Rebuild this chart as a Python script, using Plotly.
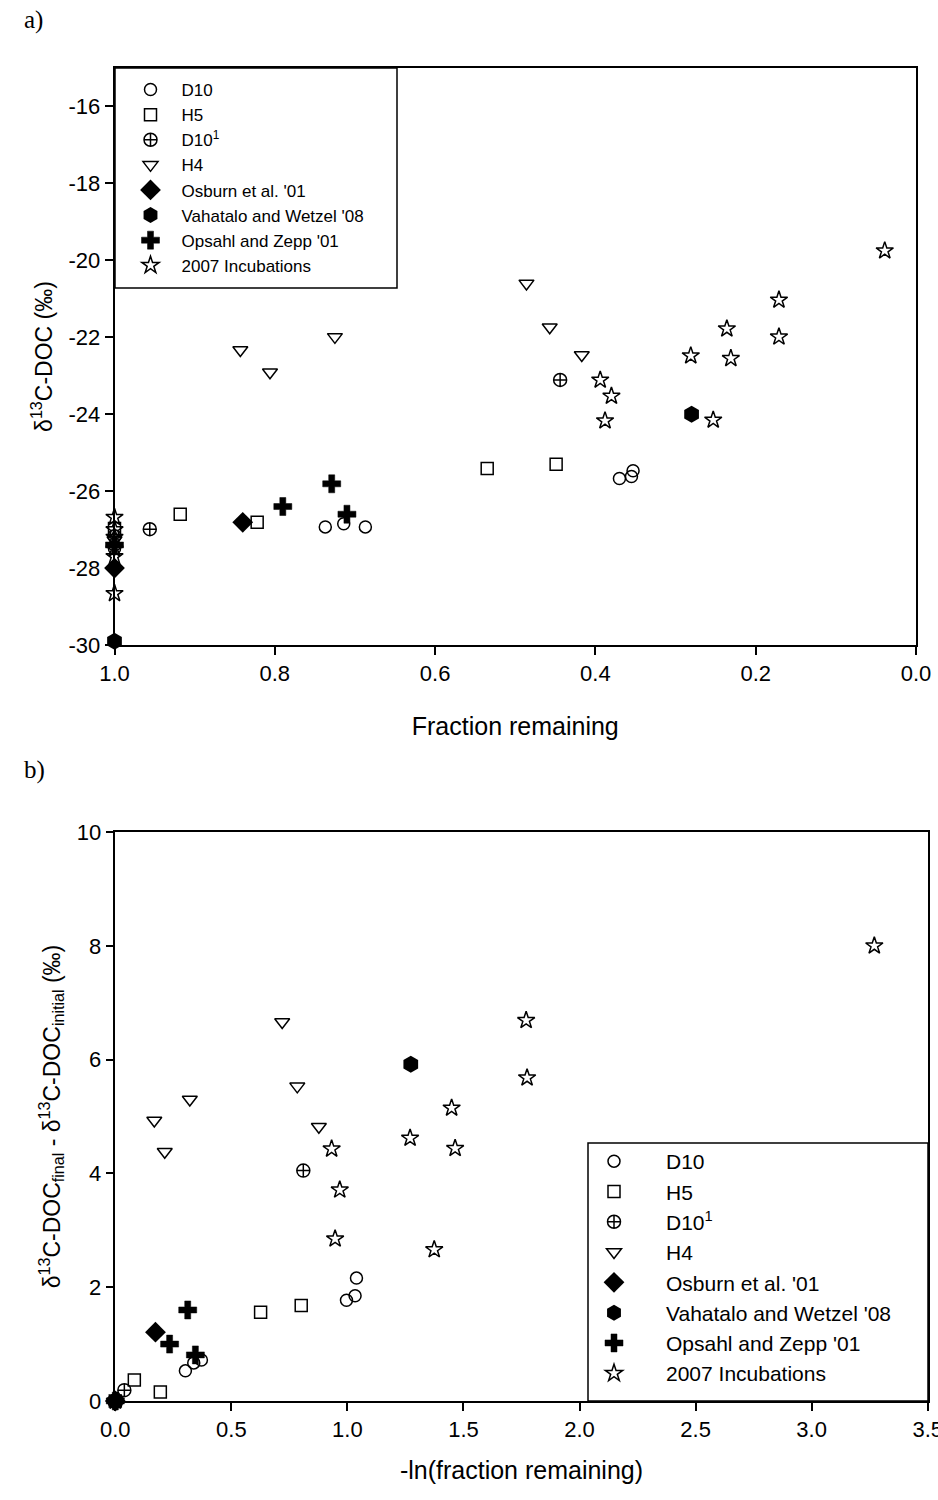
import plotly.graph_objects as go

# ---- Panel a: d13C-DOC against fraction of DOC remaining ----
a_d10_x = [1.0, 0.737, 0.714, 0.687, 0.370, 0.355, 0.353]
a_d10_y = [-27.5, -26.93, -26.85, -26.93, -25.67, -25.62, -25.47]
a_h5_x = [1.0, 0.918, 0.822, 0.535, 0.449]
a_h5_y = [-26.97, -26.60, -26.81, -25.41, -25.30]
a_d10b_x = [1.0, 0.956, 0.444]
a_d10b_y = [-27.17, -26.99, -23.11]
a_h4_x = [1.0, 0.843, 0.806, 0.725, 0.486, 0.457, 0.417]
a_h4_y = [-27.27, -22.33, -22.91, -21.99, -20.60, -21.74, -22.46]
a_osburn_x = [1.0, 0.840]
a_osburn_y = [-28.0, -26.81]
a_vahatalo_x = [1.0, 0.280]
a_vahatalo_y = [-29.9, -24.0]
a_opsahl_x = [1.0, 0.790, 0.729, 0.710]
a_opsahl_y = [-27.4, -26.40, -25.81, -26.60]
a_inc_x = [1.0, 1.0, 1.0, 1.0, 1.0, 1.0,
           0.394, 0.380, 0.388, 0.281, 0.236, 0.231, 0.253, 0.171, 0.171, 0.039]
a_inc_y = [-26.68, -27.0, -27.2, -27.5, -27.7, -28.66,
           -23.11, -23.53, -24.17, -22.48, -21.78, -22.55, -24.15, -21.03, -21.99, -19.75]

# ---- Panel b: isotopic shift against -ln(fraction remaining) ----
b_d10_x = [0.0, 0.302, 0.338, 0.371, 0.996, 1.033, 1.039]
b_d10_y = [0.0, 0.53, 0.67, 0.72, 1.77, 1.85, 2.16]
b_h5_x = [0.0, 0.082, 0.194, 0.626, 0.801]
b_h5_y = [0.0, 0.37, 0.16, 1.56, 1.68]
b_d10b_x = [0.0, 0.039, 0.810]
b_d10b_y = [0.0, 0.19, 4.05]
b_h4_x = [0.0, 0.168, 0.213, 0.321, 0.719, 0.784, 0.877]
b_h4_y = [0.0, 4.93, 4.38, 5.30, 6.66, 5.53, 4.82]
b_osburn_x = [0.0, 0.173]
b_osburn_y = [0.0, 1.21]
b_vahatalo_x = [0.0, 1.273]
b_vahatalo_y = [0.0, 5.92]
b_opsahl_x = [0.0, 0.234, 0.312, 0.345]
b_opsahl_y = [0.0, 1.00, 1.60, 0.81]
b_inc_x = [0.0, 0.932, 0.967, 0.947, 1.270, 1.449, 1.464, 1.374, 1.770, 1.774, 3.27]
b_inc_y = [0.0, 4.43, 3.71, 2.85, 4.62, 5.15, 4.44, 2.66, 6.69, 5.68, 8.0]

series_names = ["D10", "H5", "D10<sup>1</sup>", "H4", "Osburn et al. '01",
                "Vahatalo and Wetzel '08", "Opsahl and Zepp '01", "2007 Incubations"]

a_ticks_x = [1.0, 0.8, 0.6, 0.4, 0.2, 0.0]
a_ticks_x_text = ["1.0", "0.8", "0.6", "0.4", "0.2", "0.0"]
a_ticks_y = [-30, -28, -26, -24, -22, -20, -18, -16]
a_ticks_y_text = ["-30", "-28", "-26", "-24", "-22", "-20", "-18", "-16"]
b_ticks_x = [0.0, 0.5, 1.0, 1.5, 2.0, 2.5, 3.0, 3.5]
b_ticks_x_text = ["0.0", "0.5", "1.0", "1.5", "2.0", "2.5", "3.0", "3.5"]
b_ticks_y = [0, 2, 4, 6, 8, 10]
b_ticks_y_text = ["0", "2", "4", "6", "8", "10"]

# marker styling per series (same order as series_names)
styles = [
    dict(symbol="circle-open", size=12, color="black", line=dict(width=1.5, color="black")),
    dict(symbol="square-open", size=12, color="black", line=dict(width=1.5, color="black")),
    dict(symbol="circle-cross-open", size=13, color="black", line=dict(width=1.5, color="black")),
    dict(symbol="triangle-down-open", size=13, color="black", line=dict(width=1.5, color="black")),
    dict(symbol="diamond", size=16, color="black", line=dict(width=0)),
    dict(symbol="hexagon", size=17, color="black", line=dict(width=0)),
    dict(symbol="cross", size=15, color="black", line=dict(width=0.5, color="black")),
    dict(symbol="star-open", size=13, color="black", line=dict(width=1.5, color="black")),
]

panel_a = [(a_d10_x, a_d10_y), (a_h5_x, a_h5_y), (a_d10b_x, a_d10b_y), (a_h4_x, a_h4_y),
           (a_osburn_x, a_osburn_y), (a_vahatalo_x, a_vahatalo_y),
           (a_opsahl_x, a_opsahl_y), (a_inc_x, a_inc_y)]
panel_b = [(b_d10_x, b_d10_y), (b_h5_x, b_h5_y), (b_d10b_x, b_d10b_y), (b_h4_x, b_h4_y),
           (b_osburn_x, b_osburn_y), (b_vahatalo_x, b_vahatalo_y),
           (b_opsahl_x, b_opsahl_y), (b_inc_x, b_inc_y)]

fig = go.Figure()
for name, (xs, ys), st in zip(series_names, panel_a, styles):
    fig.add_trace(go.Scatter(x=xs, y=ys, mode="markers", name=name, marker=st,
                             xaxis="x", yaxis="y", legend="legend", cliponaxis=False))
for name, (xs, ys), st in zip(series_names, panel_b, styles):
    fig.add_trace(go.Scatter(x=xs, y=ys, mode="markers", name=name, marker=st,
                             xaxis="x2", yaxis="y2", legend="legend2", cliponaxis=False))

W, H = 938, 1500
font = "Liberation Sans, Arial, sans-serif"
axis_common = dict(showline=True, linecolor="black", linewidth=1.5, mirror=True,
                   ticks="outside", ticklen=8, tickwidth=1.5, tickcolor="black",
                   showgrid=False, zeroline=False, tickmode="array", automargin=False,
                   tickfont=dict(family=font, size=22, color="black"))

# legend frames (pixel boxes converted to paper coordinates)
legend_boxes = [(115, 68, 397, 288), (588, 1143, 928, 1401)]
shapes = [dict(type="rect", xref="paper", yref="paper",
               x0=x0 / W, x1=x1 / W, y0=1 - y1 / H, y1=1 - y0 / H,
               line=dict(color="black", width=1.5), fillcolor="rgba(0,0,0,0)")
          for x0, y0, x1, y1 in legend_boxes]

fig.update_layout(
    width=W, height=H,
    margin=dict(l=0, r=0, t=0, b=0),
    paper_bgcolor="white", plot_bgcolor="white",
    showlegend=True,
    xaxis=dict(axis_common, domain=[114.5 / W, 916 / W], range=[1.0, 0.0],
               tickvals=a_ticks_x, ticktext=a_ticks_x_text, anchor="y",
               title=dict(text="Fraction remaining", standoff=32,
                          font=dict(family=font, size=25, color="black"))),
    yaxis=dict(axis_common, domain=[1 - 645 / H, 1 - 68 / H], range=[-30, -15],
               tickvals=a_ticks_y, ticktext=a_ticks_y_text, anchor="x",
               title=dict(text="δ<sup>13</sup>C-DOC (‰)", standoff=10,
                          font=dict(family=font, size=23, color="black"))),
    xaxis2=dict(axis_common, domain=[115.3 / W, 927.7 / W], range=[0, 3.5],
                tickvals=b_ticks_x, ticktext=b_ticks_x_text, anchor="y2",
                ticklabeloverflow="allow",
                title=dict(text="-ln(fraction remaining)", standoff=20,
                           font=dict(family=font, size=25, color="black"))),
    yaxis2=dict(axis_common, domain=[1 - 1401 / H, 1 - 832 / H], range=[0, 10],
                tickvals=b_ticks_y, ticktext=b_ticks_y_text, anchor="x2",
                title=dict(text="δ<sup>13</sup>C-DOC<sub>final</sub> - δ<sup>13</sup>C-DOC<sub>initial</sub> (‰)",
                           standoff=10, font=dict(family=font, size=23, color="black"))),
    legend=dict(x=119.5 / W, y=1 - 72 / H, xanchor="left", yanchor="top",
                borderwidth=0, bgcolor="rgba(0,0,0,0)",
                font=dict(family=font, size=17, color="black"),
                itemwidth=52, tracegroupgap=0),
    legend2=dict(x=562 / W, y=1 - 1141 / H, xanchor="left", yanchor="top",
                 borderwidth=0, bgcolor="rgba(0,0,0,0)",
                 font=dict(family=font, size=21, color="black"),
                 itemwidth=94, tracegroupgap=0),
    shapes=shapes,
    annotations=[
        dict(text="a)", x=22 / W, y=1 - 20 / H, xref="paper", yref="paper",
             xanchor="left", yanchor="middle", showarrow=False,
             font=dict(family="Liberation Serif, Times New Roman, serif", size=25, color="black")),
        dict(text="b)", x=22 / W, y=1 - 770 / H, xref="paper", yref="paper",
             xanchor="left", yanchor="middle", showarrow=False,
             font=dict(family="Liberation Serif, Times New Roman, serif", size=25, color="black")),
    ],
)

fig.write_html("out.html")
